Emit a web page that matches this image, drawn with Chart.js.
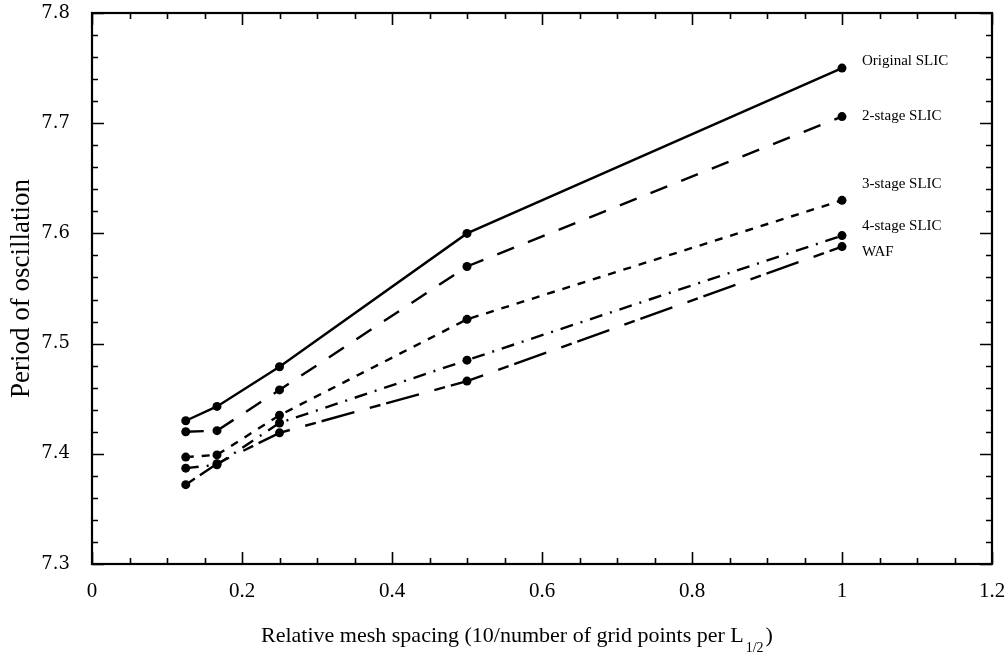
<!DOCTYPE html>
<html>
<head>
<meta charset="utf-8">
<script src="https://cdn.jsdelivr.net/npm/chart.js@4.4.1/dist/chart.umd.min.js"></script>
<style>
  html, body { margin: 0; padding: 0; background: #fff; }
  #wrap { width: 1007px; height: 658px; }
</style>
</head>
<body>
<div id="wrap"><canvas id="periodChart"></canvas></div>
<script>
// values
const meshSpacing = [0.125, 1 / 6, 0.25, 0.5, 1];
const seriesNames = ['Original SLIC', '2-stage SLIC', '3-stage SLIC', '4-stage SLIC', 'WAF'];
const originalSlic = [7.430, 7.443, 7.479, 7.600, 7.750];
const twoStageSlic = [7.420, 7.421, 7.458, 7.570, 7.706];
const threeStageSlic = [7.397, 7.399, 7.435, 7.522, 7.630];
const fourStageSlic = [7.387, 7.390, 7.428, 7.485, 7.598];
const wafValues = [7.372, 7.391, 7.419, 7.466, 7.588];
const xTickValues = [0, 0.2, 0.4, 0.6, 0.8, 1, 1.2];
const yTickValues = [7.3, 7.4, 7.5, 7.6, 7.7, 7.8];

const allSeries = [originalSlic, twoStageSlic, threeStageSlic, fourStageSlic, wafValues];
const dashes = [[], [18, 15], [8, 8], [13, 8, 2, 8], [11, 6, 34, 16]];
const labelShift = [-7, -1, -16, -10, 5]; // vertical nudge of the end labels, px

// inward ticks on all four sides + frame
const frameTicks = {
  id: 'frameTicks',
  afterDraw(chart) {
    const { ctx, chartArea: a, scales: { x, y } } = chart;
    ctx.save();
    ctx.strokeStyle = '#000';
    ctx.lineWidth = 1.6;
    ctx.beginPath();
    for (let i = 0; i <= 24; i++) {
      const px = Math.round(x.getPixelForValue(i * 0.05)) + 0.5;
      const len = i % 4 === 0 ? 12 : 6;
      ctx.moveTo(px, a.bottom); ctx.lineTo(px, a.bottom - len);
      ctx.moveTo(px, a.top); ctx.lineTo(px, a.top + len);
    }
    for (let i = 0; i <= 25; i++) {
      const py = Math.round(y.getPixelForValue(7.3 + i * 0.02)) + 0.5;
      const len = i % 5 === 0 ? 12 : 6;
      ctx.moveTo(a.left, py); ctx.lineTo(a.left + len, py);
      ctx.moveTo(a.right, py); ctx.lineTo(a.right - len, py);
    }
    ctx.stroke();
    ctx.lineWidth = 2.2;
    ctx.strokeRect(a.left, a.top, a.right - a.left, a.bottom - a.top);
    ctx.restore();
  }
};

// series names next to the last point of each line
const endLabels = {
  id: 'endLabels',
  afterDatasetsDraw(chart) {
    const ctx = chart.ctx;
    ctx.save();
    ctx.font = '15px "Liberation Serif", serif';
    ctx.fillStyle = '#000';
    ctx.textBaseline = 'middle';
    chart.data.datasets.forEach((ds, i) => {
      const pts = chart.getDatasetMeta(i).data;
      const last = pts[pts.length - 1];
      ctx.fillText(ds.label, last.x + 20, last.y + labelShift[i]);
    });
    ctx.restore();
  }
};

// x title with the L_{1/2} subscript
const xTitle = {
  id: 'xTitle',
  afterDraw(chart) {
    const ctx = chart.ctx;
    const main = 'Relative mesh spacing (10/number of grid points per L';
    const sub = '1/2';
    const close = ')';
    ctx.save();
    ctx.fillStyle = '#000';
    ctx.textBaseline = 'alphabetic';
    ctx.font = '22px "Liberation Serif", serif';
    const wMain = ctx.measureText(main).width;
    const wClose = ctx.measureText(close).width;
    ctx.font = '14px "Liberation Serif", serif';
    const wSub = ctx.measureText(sub).width;
    let xpos = 517 - (wMain + wSub + wClose + 4) / 2;
    const base = 642;
    ctx.font = '22px "Liberation Serif", serif';
    ctx.fillText(main, xpos, base);
    xpos += wMain + 2;
    ctx.font = '14px "Liberation Serif", serif';
    ctx.fillText(sub, xpos, base + 10);
    xpos += wSub + 2;
    ctx.font = '22px "Liberation Serif", serif';
    ctx.fillText(close, xpos, base);
    ctx.restore();
  }
};

const noLabelPadding = scale => {
  scale.paddingTop = 0;
  scale.paddingBottom = 0;
  scale.paddingLeft = 0;
  scale.paddingRight = 0;
};

const ctx_period = document.getElementById('periodChart').getContext('2d');
const periodChart = new Chart(ctx_period, {
  type: 'line',
  data: {
    datasets: allSeries.map((vals, i) => ({
      label: seriesNames[i],
      data: vals.map((v, j) => ({ x: meshSpacing[j], y: v })),
      borderColor: '#000',
      backgroundColor: '#000',
      borderWidth: 2.4,
      borderDash: dashes[i],
      pointRadius: 4.5,
      pointBorderWidth: 0,
      pointBackgroundColor: '#000',
      fill: false,
      tension: 0
    }))
  },
  options: {
    responsive: true,
    maintainAspectRatio: false,
    animation: false,
    layout: { padding: { top: 13, right: 15, left: 0, bottom: 0 } },
    plugins: {
      legend: { display: false },
      tooltip: { enabled: false }
    },
    scales: {
      x: {
        type: 'linear',
        min: 0,
        max: 1.2,
        afterBuildTicks: scale => { scale.ticks = xTickValues.map(v => ({ value: v })); },
        afterFit: scale => { scale.height = 94; noLabelPadding(scale); },
        grid: { display: false, drawTicks: false },
        border: { display: false },
        ticks: {
          padding: 15,
          color: '#000',
          font: { family: '"Liberation Serif", serif', size: 21 },
          callback: v => String(+v.toFixed(2))
        }
      },
      y: {
        type: 'linear',
        min: 7.3,
        max: 7.8,
        afterBuildTicks: scale => { scale.ticks = yTickValues.map(v => ({ value: v })); },
        afterFit: scale => { scale.width = 92; noLabelPadding(scale); },
        grid: { display: false, drawTicks: false },
        border: { display: false },
        title: {
          display: true,
          text: 'Period of oscillation',
          color: '#000',
          font: { family: '"Liberation Serif", serif', size: 27 },
          padding: { top: 6, bottom: 0 }
        },
        ticks: {
          padding: 22,
          color: '#000',
          font: { family: '"DejaVu Serif", serif', size: 18 },
          callback: v => v.toFixed(1)
        }
      }
    }
  },
  plugins: [frameTicks, endLabels, xTitle]
});
</script>
</body>
</html>
